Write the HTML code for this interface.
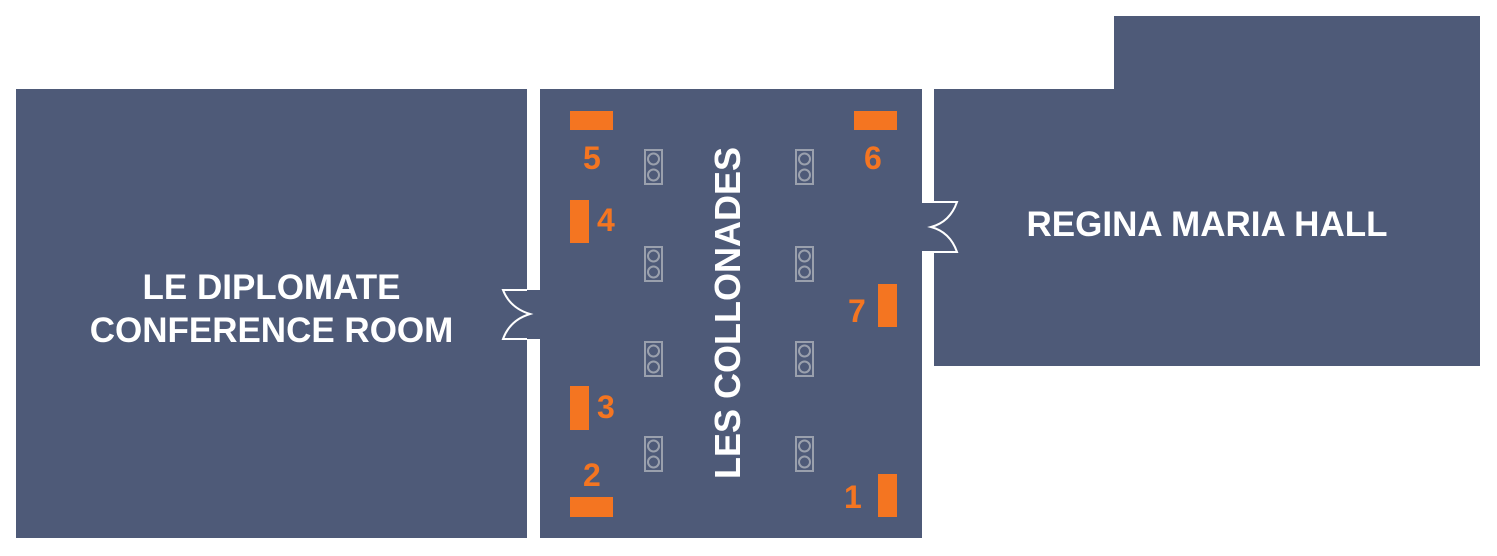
<!DOCTYPE html>
<html><head><style>
body{margin:0;background:#fff;width:1497px;height:556px;overflow:hidden;position:relative;font-family:"Liberation Sans",sans-serif}
.r{position:absolute;background:#4e5a78}
.o{position:absolute;background:#f47521}
.n{position:absolute;color:#f47521;font-weight:bold;font-size:32px;line-height:32px}
.t{position:absolute;color:#fff;font-weight:bold;text-align:center}
</style></head><body>
<div class="r" style="left:16px;top:89px;width:511px;height:449px"></div>
<div class="r" style="left:540px;top:89px;width:382px;height:449px"></div>
<div class="r" style="left:1114px;top:16px;width:366px;height:350px"></div>
<div class="r" style="left:934px;top:89px;width:546px;height:277px"></div>
<div class="r" style="left:520px;top:290px;width:30px;height:49px"></div>
<div class="r" style="left:915px;top:202px;width:30px;height:50px"></div>
<svg style="position:absolute;left:0;top:0" width="1497" height="556">
<g fill="none" stroke="#fff" stroke-width="2">
<path d="M527 290 H503 Q510 308 530 314 Q510 320 503 339 H527"/>
<path d="M922 202 H957 Q950 222 931 227 Q950 232 957 252 H922"/>
</g>
<g fill="none" stroke="#9aa0ad" stroke-width="2">
<g id="c"><rect x="645" y="150" width="17" height="34"/><circle cx="653.5" cy="159" r="5.5"/><circle cx="653.5" cy="175" r="5.5"/></g>
<use href="#c" x="0" y="97"/><use href="#c" x="0" y="192"/><use href="#c" x="0" y="287"/>
<use href="#c" x="151" y="0"/><use href="#c" x="151" y="97"/><use href="#c" x="151" y="192"/><use href="#c" x="151" y="287"/>
</g></svg>
<div class="o" style="left:570px;top:111px;width:43px;height:19px"></div>
<div class="o" style="left:854px;top:111px;width:43px;height:19px"></div>
<div class="o" style="left:570px;top:200px;width:19px;height:43px"></div>
<div class="o" style="left:878px;top:284px;width:19px;height:43px"></div>
<div class="o" style="left:570px;top:386px;width:19px;height:44px"></div>
<div class="o" style="left:570px;top:497px;width:43px;height:20px"></div>
<div class="o" style="left:878px;top:474px;width:19px;height:43px"></div>
<div class="n" style="left:583px;top:142px">5</div>
<div class="n" style="left:864px;top:142px">6</div>
<div class="n" style="left:597px;top:204px">4</div>
<div class="n" style="left:848px;top:295px">7</div>
<div class="n" style="left:597px;top:391px">3</div>
<div class="n" style="left:583px;top:459px">2</div>
<div class="n" style="left:844px;top:481px">1</div>
<div class="t" style="left:16px;top:266px;width:511px;font-size:35px;line-height:43px">LE DIPLOMATE<br>CONFERENCE ROOM</div>
<div class="t" style="left:934px;top:205px;width:546px;font-size:35px;line-height:40px">REGINA MARIA HALL</div>
<div class="t" style="left:528px;top:293px;width:400px;font-size:36px;line-height:40px;transform:rotate(-90deg)">LES COLLONADES</div>
</body></html>
